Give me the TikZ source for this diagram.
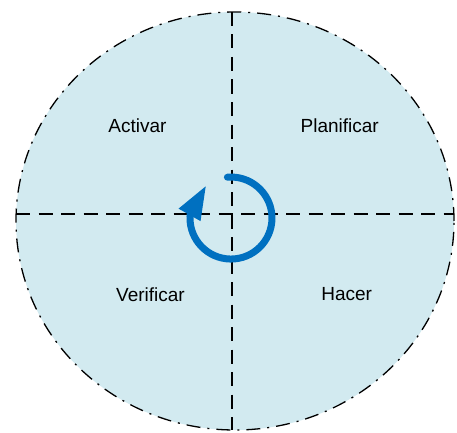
\documentclass[tikz,border=0pt]{standalone}
\usepackage{fontspec}
\setmainfont{Liberation Sans}
\usetikzlibrary{arrows.meta, bending}
\definecolor{cyclefill}{RGB}{210,234,240}
\definecolor{cycleblue}{RGB}{0,112,192}

\begin{document}
\begin{tikzpicture}[x=1pt, y=1pt]
    % Define styles
    \tikzstyle{outline} = [draw=black, line width=1.3pt, fill=cyclefill, dash pattern=on 14pt off 7pt on 2pt off 7pt]
    \tikzstyle{divider} = [draw=black, line width=1.3pt, dash pattern=on 14pt off 8.5pt]
    \tikzstyle{phase} = [font=\fontsize{19}{23}\selectfont, inner sep=0pt]
    \tikzstyle{cyclearrow} = [draw=cycleblue, line width=7pt, line cap=round, -{Triangle[length=34pt, width=23pt]}]

    \useasboundingbox (0,0) rectangle (457,432);

    % Background
    \draw [outline] (235,211) ellipse [x radius=219pt, y radius=209pt];

    % Dividers
    \coordinate (top) at (232,420);
    \coordinate (bottom) at (232,2);
    \coordinate (left) at (16,218);
    \coordinate (right) at (454,218);
    \draw [divider] (top) -- (bottom);
    \draw [divider] (left) -- (right);

    % Nodes
    \node (activar) [phase] at (137.5,306) {Activar};
    \node (planificar) [phase] at (339.7,306) {Planificar};
    \node (verificar) [phase] at (150.5,137) {Verificar};
    \node (hacer) [phase] at (346.7,138) {Hacer};

    % Arrows
    \coordinate (cyclestart) at (227.4,254.8);
    \draw [cyclearrow] (cyclestart) arc [start angle=95, end angle=-233, radius=41];
\end{tikzpicture}
\end{document}
